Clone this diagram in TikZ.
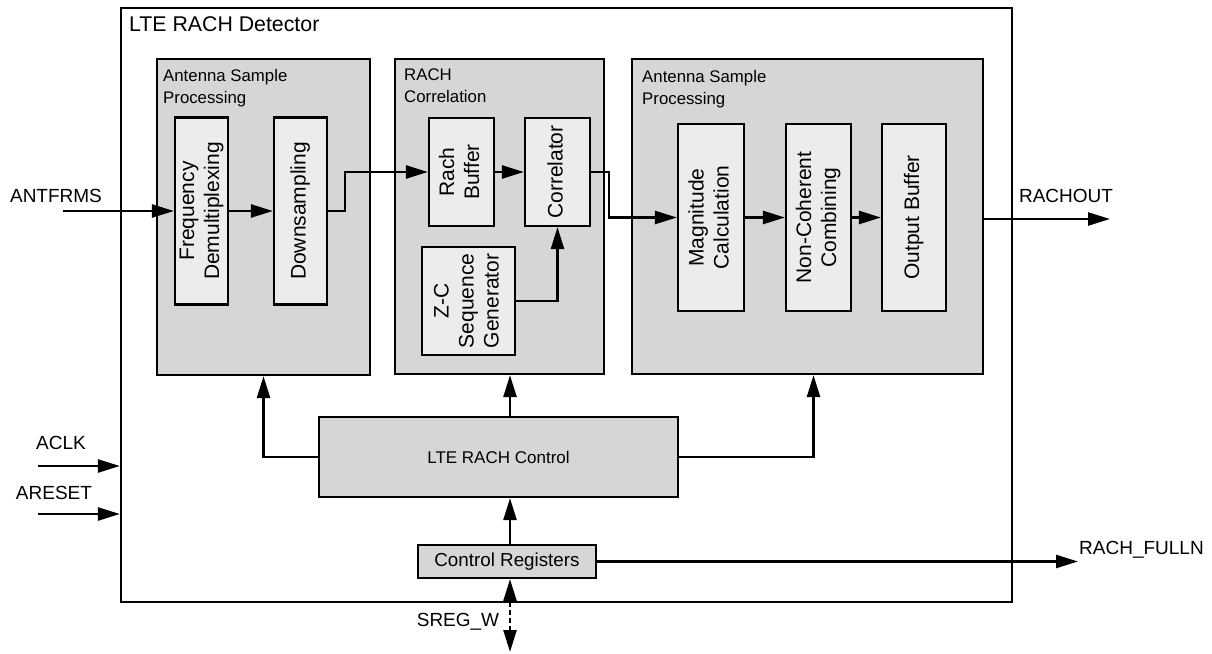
\documentclass[tikz,border=0pt]{standalone}
\usepackage{fontspec}
\setmainfont{Liberation Sans}
\usetikzlibrary{arrows.meta,positioning,calc}
\definecolor{grpgray}{RGB}{214,214,213}
\definecolor{boxgray}{RGB}{236,236,236}
\newcommand{\vlab}[1]{\rotatebox{90}{\begin{tabular}{@{}c@{}}#1\end{tabular}}}

\begin{document}
\begin{tikzpicture}[x=1pt,y=-1pt,>={Triangle[length=22pt,width=13pt]},
  grp/.style={draw, line width=2.2pt, fill=grpgray, inner sep=0pt},
  blk/.style={draw, line width=2.2pt, fill=boxgray, inner sep=0pt, font=\fontsize{21}{25}\selectfont},
  arr/.style={line width=2.5pt, ->},
  sig/.style={font=\fontsize{19}{23}\selectfont, inner sep=0pt},
  grptitle/.style={font=\fontsize{16.8}{22}\selectfont, align=left, anchor=north west, inner sep=0pt}]
\useasboundingbox (0,0) rectangle (1212,653);
% Detector frame
\node[draw, line width=2.2pt, minimum width=891, minimum height=594, inner sep=0pt] (det) at (566.5,305) {};
\node[font=\fontsize{21.3}{25}\selectfont, anchor=north west, inner sep=0pt] (title) at (129,16.5) {LTE RACH Detector};
% Processing groups
\node[grp, minimum width=213, minimum height=316] (grp1) at (263.5,217) {};
\node[grp, minimum width=209, minimum height=315] (grp2) at (499.5,216.5) {};
\node[grp, minimum width=351, minimum height=315] (grp3) at (807.5,216.5) {};
\node[grptitle] (cap1) at (163,69) {Antenna Sample\\Processing};
\node[grptitle] (cap2) at (404,69) {RACH\\Correlation};
\node[grptitle] (cap3) at (642,70) {Antenna Sample\\Processing};
% Inner blocks
\node[blk, minimum width=53, minimum height=187] (freq) at (201.5,211) {\vlab{Frequency\\Demultiplexing}};
\node[blk, minimum width=53, minimum height=187] (down) at (300.5,211) {\vlab{Downsampling}};
\node[blk, minimum width=65, minimum height=108] (rbuf) at (461.5,172) {\vlab{Rach\\Buffer}};
\node[blk, minimum width=65, minimum height=108] (corr) at (557.5,172) {\vlab{Correlator}};
\node[blk, minimum width=93, minimum height=108] (zc) at (468.5,301) {\vlab{Z-C\\Sequence\\Generator}};
\node[blk, minimum width=66, minimum height=187.5] (mag) at (711,217.5) {\vlab{Magnitude\\Calculation}};
\node[blk, minimum width=65, minimum height=187.5] (ncc) at (818.5,217.5) {\vlab{Non-Coherent\\Combining}};
\node[blk, minimum width=64, minimum height=187.5] (obuf) at (914,217.5) {\vlab{Output Buffer}};
% Control
\node[grp, minimum width=359, minimum height=80, font=\fontsize{17}{20}\selectfont] (ctrl) at (498.5,457) {LTE RACH Control};
\node[grp, minimum width=178, minimum height=33, font=\fontsize{18.8}{22}\selectfont] (cr) at (507,561.5) {Control Registers};
\coordinate (bus) at (510,0);
% Ports
\node[sig] (antfrms) at (56,196) {ANTFRMS};
\node[sig] (aclk) at (61,443) {ACLK};
\node[sig] (areset) at (54,493) {ARESET};
\node[sig] (rachout) at (1066,196) {RACHOUT};
\node[sig, anchor=west] (fulln) at (1079,550) {RACH\_FULLN};
\node[sig] (sregw) at (458,622) {SREG\_W};
\coordinate (antin) at (63,211);
\coordinate (aclkin) at (38,466);
\coordinate (arstin) at (38,514);
\coordinate (rachend) at (1110,219);
\coordinate (fullend) at (1078,561.5);
\coordinate (sregend) at (510,652);
% Data path
\draw[arr] (antin) -- (freq.west);
\draw[arr] (freq) -- (down);
\draw[arr] (down.east) -- ++(17,0) |- (rbuf.west);
\draw[arr] (rbuf) -- (corr);
\draw[arr] (zc.east) -| (corr.south);
\draw[arr] (corr.east) -- ++(18,0) |- (mag.west);
\draw[arr] (mag) -- (ncc);
\draw[arr] (ncc) -- (obuf);
\draw[arr] (grp3.east |- rachend) -- (rachend);
% Control paths
\draw[arr] (ctrl.west) -| (grp1.south);
\draw[arr] (ctrl.north -| bus) -- (grp2.south -| bus);
\draw[arr] (ctrl.east) -| ($(grp3.south)+(6,0)$);
\draw[arr] (cr.north -| bus) -- (ctrl.south -| bus);
\draw[arr] (cr.east) -- (fullend);
\draw[line width=2.5pt, <->, dash pattern=on 5pt off 3pt] (sregend) -- (cr.south -| bus);
\draw[arr] (aclkin) -- (aclkin -| det.west);
\draw[arr] (arstin) -- (arstin -| det.west);
\end{tikzpicture}
\end{document}
